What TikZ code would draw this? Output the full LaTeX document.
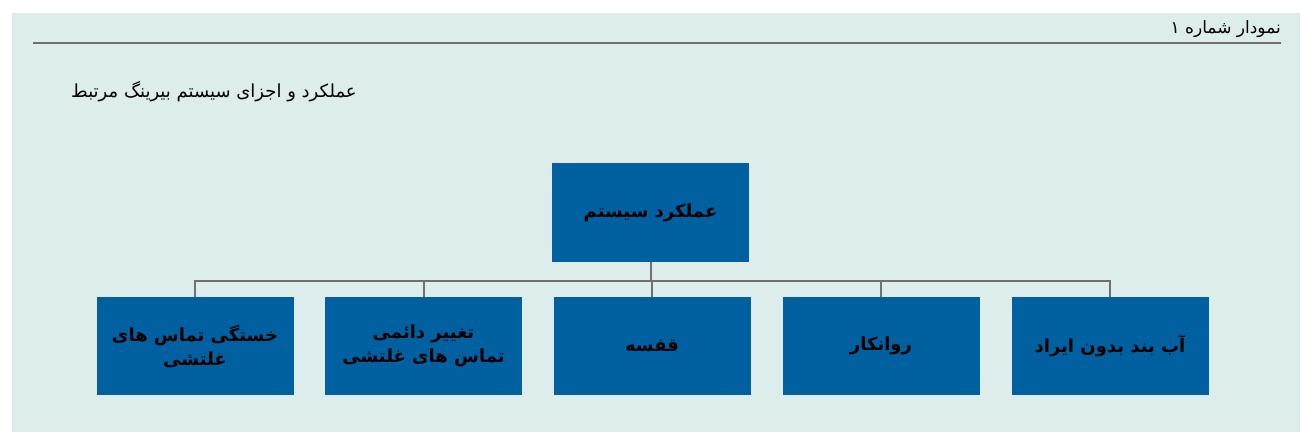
\documentclass[tikz,border=0pt]{standalone}
\usepackage{fontspec}
\TeXXeTstate=1
\newfontfamily\arabicfont[Script=Arabic]{DejaVu Sans}
\definecolor{panelbg}{HTML}{DDEDEB}
\definecolor{boxblue}{HTML}{0060A0}
\definecolor{linegray}{HTML}{707070}
\begin{document}
\begin{tikzpicture}[x=1pt,y=1pt,
  blockbox/.style={fill=boxblue, draw=none, minimum width=197pt, minimum height=98pt,
    align=center, font=\arabicfont\bfseries\fontsize{18}{24}\selectfont, text=black, inner sep=0pt},
  link/.style={draw=linegray, line width=2pt}]
\useasboundingbox (0,0) rectangle (1312,445);
\fill[white] (0,0) rectangle (1312,445);
\fill[panelbg] (12,13) rectangle (1300,432);
\coordinate (rl) at (33,402);
\coordinate (rr) at (1281,402);
\draw[linegray, line width=2pt] (rl) -- (rr);
\node[anchor=south east, inner sep=0pt, font=\arabicfont\fontsize{17}{20}\selectfont] (title) at (1281,407) {\beginR نمودار شماره ۱\endR};
\node[anchor=west, inner sep=0pt, font=\arabicfont\fontsize{18}{22}\selectfont] (sub) at (71,353) {\beginR عملکرد و اجزای سیستم بیرینگ مرتبط\endR};
\node[blockbox, minimum height=99pt] (top) at (650.5,232.5) {\beginR عملکرد سیستم\endR};
\node[blockbox] (b1) at (195,99) {\beginR خستگی تماس های\endR\\\beginR غلتشی\endR};
\node[blockbox] (b2) at (423.5,99) {\beginR تغییر دائمی\endR\\\beginR تماس های غلتشی\endR};
\node[blockbox] (b3) at (652,99) {\beginR قفسه\endR};
\node[blockbox] (b4) at (881,99) {\beginR روانکار\endR};
\node[blockbox] (b5) at (1110,99) {\beginR آب بند بدون ایراد\endR};
\coordinate (bus) at (650.5,164);
\draw[link] (top.south) -- (bus);
\draw[link] (b1.north) |- (bus);
\draw[link] (b5.north) |- (bus);
\draw[link] (b2.north) -- (b2.north |- bus);
\draw[link] (b3.north) -- (b3.north |- bus);
\draw[link] (b4.north) -- (b4.north |- bus);
\end{tikzpicture}
\end{document}
